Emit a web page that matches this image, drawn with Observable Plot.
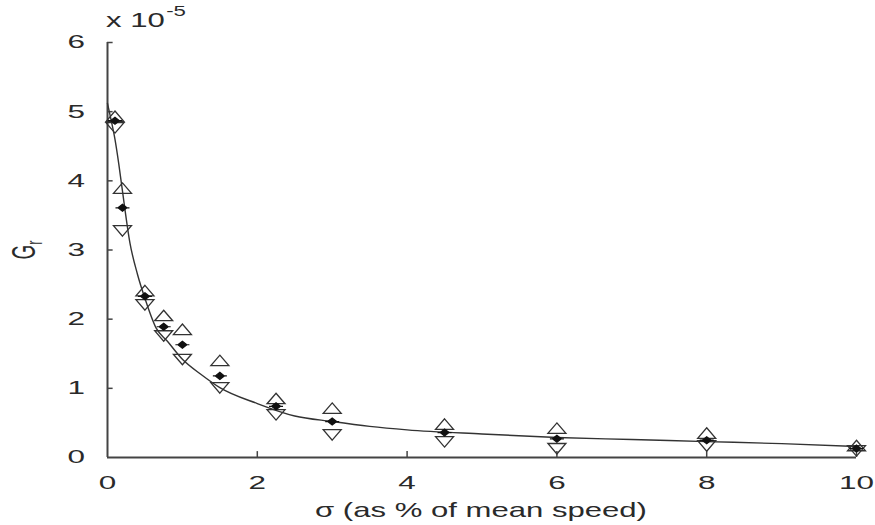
<!DOCTYPE html>
<html><head><meta charset="utf-8">
<script src="https://cdn.jsdelivr.net/npm/d3@7"></script>
<script src="https://cdn.jsdelivr.net/npm/@observablehq/plot@0.6"></script>
<style>body{margin:0;background:#fff} svg{display:block}</style>
</head><body><div id="chart"></div>
<script>
// sigma (as % of mean speed)
const sigma = [0.1, 0.2, 0.5, 0.75, 1, 1.5, 2.25, 3, 4.5, 6, 8, 10];
// G_r values in units of 1e-5
const upper = [4.93, 3.89, 2.41, 2.05, 1.85, 1.40, 0.85, 0.71, 0.48, 0.42, 0.35, 0.17];
const mean  = [4.87, 3.61, 2.33, 1.89, 1.63, 1.18, 0.74, 0.52, 0.36, 0.27, 0.25, 0.13];
const lower = [4.77, 3.28, 2.21, 1.76, 1.42, 1.01, 0.62, 0.33, 0.23, 0.13, 0.17, 0.10];
// fitted curve
const fitX = [0, 0.05, 0.1, 0.15, 0.2, 0.3, 0.4, 0.5, 0.65, 0.8, 1, 1.25, 1.5, 2, 2.5, 3, 3.5, 4, 5, 6, 7, 8, 9, 10];
const fitY = [5.12, 4.87, 4.6, 4.25, 3.85, 3.1, 2.65, 2.3, 1.87, 1.68, 1.42, 1.2, 1.01, 0.78, 0.6, 0.52, 0.45, 0.40, 0.34, 0.29, 0.26, 0.23, 0.2, 0.16];
const xTicks = [0, 2, 4, 6, 8, 10];
const yTicks = [0, 1, 2, 3, 4, 5, 6];
const xLabel = "σ (as % of mean speed)";
const yLabelMain = "G", yLabelSub = "r";
const expMain = "x 10", expSup = "-5";

const rows = sigma.map((s, i) => ({s, u: upper[i], m: mean[i], l: lower[i]}));
const fit = fitX.map((x, i) => ({x, y: fitY[i]}));

const triUp = {draw(c) { c.moveTo(0, -5.5); c.lineTo(9, 5); c.lineTo(-9, 5); c.closePath(); }};
const triDown = {draw(c) { c.moveTo(0, 5.5); c.lineTo(9, -5); c.lineTo(-9, -5); c.closePath(); }};
const meanSym = {draw(c) {
  c.moveTo(-4.5, 0); c.lineTo(0, -3.5); c.lineTo(4.5, 0); c.lineTo(0, 3.5); c.closePath();
  c.moveTo(-7, 0); c.lineTo(7, 0);
}};

const ink = "#2a2a2a";
const chart = Plot.plot({
  width: 875, height: 525,
  marginLeft: 107, marginRight: 19, marginTop: 42, marginBottom: 68,
  x: {domain: [0, 10]},
  y: {domain: [0, 6]},
  style: {fontFamily: "'Liberation Sans', Arial, sans-serif", fontSize: "18.5px", color: ink, background: "#fff"},
  marks: [
    Plot.ruleY([0], {x1: 0, x2: 10, stroke: "#444", strokeWidth: 2}),
    Plot.ruleX([0], {y1: 0, y2: 6, stroke: "#444", strokeWidth: 2}),
    Plot.ruleY(yTicks.slice(1), {x1: 0, x2: 0.075, stroke: "#444", strokeWidth: 1.5}),
    Plot.ruleX(xTicks.slice(1), {y1: 0, y2: 0.085, stroke: "#444", strokeWidth: 1.5}),
    Plot.axisY(yTicks, {tickSize: 0, tickPadding: 26, label: null, fill: ink, tickFormat: d => String(d)}),
    Plot.axisX(xTicks, {tickSize: 0, tickPadding: 18, label: null, fill: ink, tickFormat: d => String(d)}),
    Plot.line(fit, {x: "x", y: "y", curve: "monotone-x", stroke: "#333", strokeWidth: 1.4}),
    Plot.dot(rows, {x: "s", y: "u", symbol: triUp, stroke: "#333", fill: "none", strokeWidth: 1.3}),
    Plot.dot(rows, {x: "s", y: "l", symbol: triDown, stroke: "#333", fill: "none", strokeWidth: 1.3}),
    Plot.dot(rows, {x: "s", y: "m", symbol: meanSym, stroke: "#111", fill: "#111", strokeWidth: 1.2})
  ]
});
document.getElementById("chart").appendChild(chart);

const svg = d3.select(chart);
const SX = 1.7;
// stretch tick labels horizontally like the reference
svg.selectAll("text").each(function() {
  const bb = this.getBBox();
  const cx = bb.x + bb.width / 2;
  const t = this.getAttribute("transform") || "";
  this.setAttribute("transform", `${t} translate(${cx},0) scale(${SX},1) translate(${-cx},0)`);
});

// x axis label
const xl = svg.append("text").attr("x", 0).attr("y", 0).attr("text-anchor", "middle")
  .attr("fill", ink).attr("font-size", 20.5).text(xLabel);
{
  const w = xl.node().getBBox().width;
  xl.attr("transform", `translate(481,517) scale(${332 / w},1)`);
}
// exponent label
const ex = svg.append("text").attr("x", 0).attr("y", 0).attr("text-anchor", "start").attr("fill", ink).attr("font-size", 21);
ex.append("tspan").text(expMain);
ex.append("tspan").attr("font-size", 15).attr("dy", -11).attr("dx", 1).text(expSup);
{
  const w = ex.node().getBBox().width;
  ex.attr("transform", `translate(106,27) scale(${80 / w},1)`);
}
// y axis label G_r
const yl = svg.append("text").attr("x", 0).attr("y", 0).attr("text-anchor", "middle").attr("fill", ink).attr("font-size", 19);
yl.append("tspan").text(yLabelMain);
yl.append("tspan").attr("font-size", 13).attr("dy", 4).text(yLabelSub);
yl.attr("transform", `translate(35,250) scale(${SX},1) rotate(-90)`);
</script>
</body></html>
